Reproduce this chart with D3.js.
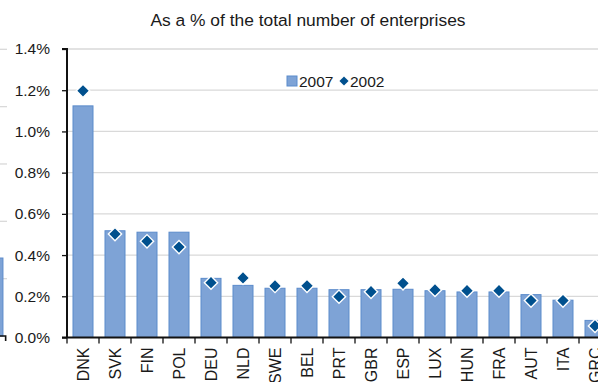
<!DOCTYPE html>
<html>
<head>
<meta charset="utf-8">
<script src="https://cdn.jsdelivr.net/npm/d3@7"></script>
<style>
  body { margin: 0; background: #fff; }
  svg { display: block; font-family: "Liberation Sans", Arial, sans-serif; }
</style>
</head>
<body>
<div id="chart"></div>
<script>
// values
const countries = ["DNK", "SVK", "FIN", "POL", "DEU", "NLD", "SWE", "BEL", "PRT", "GBR", "ESP", "LUX", "HUN", "FRA", "AUT", "ITA", "GRC"];
const values2007 = [1.124, 0.518, 0.511, 0.511, 0.287, 0.253, 0.239, 0.239, 0.232, 0.232, 0.234, 0.227, 0.221, 0.221, 0.208, 0.181, 0.083];
const values2002 = [1.197, 0.502, 0.467, 0.439, 0.266, 0.289, 0.250, 0.251, 0.198, 0.222, 0.263, 0.231, 0.227, 0.227, 0.179, 0.179, 0.056];
const yTicks = [0, 0.2, 0.4, 0.6, 0.8, 1.0, 1.2, 1.4];
const seriesNames = ["2007", "2002"];

// neighbouring panel, only its right edge shows
const prevTicks = [1, 2, 3, 4, 5];
const prevValues = [1.36];

const width = 598, height = 382;
const barFill = "#7EA3D6", barStroke = "#5B8BCB", dotFill = "#00508E";
const gridColor = "#d9d9d9";

const svg = d3.select("#chart").append("svg")
    .attr("width", width)
    .attr("height", height);

const plotLeft = 67, plotTop = 49, plotBottom = 337.5;
const step = 32;
const plotRight = plotLeft + step * countries.length;

const x = d3.scaleBand()
    .domain(countries)
    .range([plotLeft, plotRight])
    .paddingInner(0.375)
    .paddingOuter(0.1875);

const y = d3.scaleLinear()
    .domain([0, 1.4])
    .range([plotBottom, plotTop]);

// subtitle
svg.append("text")
    .attr("x", 308)
    .attr("y", 26)
    .attr("text-anchor", "middle")
    .style("font-size", "17.4px")
    .attr("fill", "#1a1a1a")
    .text("As a % of the total number of enterprises");

// the panel on the left, cropped
const prevY = d3.scaleLinear().domain([0, 5]).range([336, 49.3]);
const prevX = d3.scaleLinear().domain([0, 1]).range([-20, 7]);
svg.append("g").selectAll("line")
    .data(prevTicks)
    .enter().append("line")
    .attr("x1", prevX(0)).attr("x2", prevX(1))
    .attr("y1", d => prevY(d)).attr("y2", d => prevY(d))
    .attr("stroke", gridColor).attr("stroke-width", 1.3);
svg.append("g").selectAll("rect")
    .data(prevValues)
    .enter().append("rect")
    .attr("x", prevX(0))
    .attr("width", prevX(0.85) - prevX(0))
    .attr("y", d => prevY(d))
    .attr("height", d => prevY(0) - prevY(d))
    .attr("fill", barFill).attr("stroke", barStroke);
svg.append("path")
    .attr("d", "M" + prevX(0) + "," + prevY(0) + "H" + prevX(0.95) + "V" + (prevY(0) + 5))
    .attr("fill", "none").attr("stroke", "#111").attr("stroke-width", 1.6);

// gridlines
svg.append("g").selectAll("line")
    .data(yTicks.slice(1))
    .enter().append("line")
    .attr("x1", plotLeft).attr("x2", plotRight)
    .attr("y1", d => y(d)).attr("y2", d => y(d))
    .attr("stroke", gridColor)
    .attr("stroke-width", 1.3);

// bars 2007
svg.append("g").selectAll("rect")
    .data(countries)
    .enter().append("rect")
    .attr("x", d => x(d))
    .attr("width", x.bandwidth())
    .attr("y", (d, i) => y(values2007[i]))
    .attr("height", (d, i) => y(0) - y(values2007[i]))
    .attr("fill", barFill)
    .attr("stroke", barStroke)
    .attr("stroke-width", 1);

// diamonds 2002
const diamond = d3.symbol().type(d3.symbolSquare).size(88);
svg.append("g").selectAll("path")
    .data(countries)
    .enter().append("path")
    .attr("d", diamond)
    .attr("transform", (d, i) => "translate(" + (x(d) + x.bandwidth() / 2) + "," + y(values2002[i]) + ") rotate(45)")
    .attr("fill", dotFill)
    .attr("stroke", "#fff")
    .attr("stroke-width", 1.4);

// y axis
const yAxis = svg.append("g")
    .attr("transform", "translate(" + plotLeft + ",0)")
    .call(d3.axisLeft(y).tickValues(yTicks).tickSize(5).tickPadding(12)
        .tickFormat(d => d.toFixed(1) + "%"));
yAxis.select(".domain").attr("stroke", "#111").attr("stroke-width", 2).attr("d", "M-5," + plotTop + "H0V" + plotBottom);
yAxis.selectAll(".tick line").attr("stroke", "#111").attr("stroke-width", 1.3);
yAxis.selectAll("text").style("font-size", "15.5px").attr("fill", "#1a1a1a");

// x axis with ticks between categories
const xg = svg.append("g");
xg.append("line")
    .attr("x1", plotLeft - 5).attr("x2", plotRight)
    .attr("y1", plotBottom).attr("y2", plotBottom)
    .attr("stroke", "#111").attr("stroke-width", 2);
xg.selectAll("line.sep")
    .data(countries)
    .enter().append("line")
    .attr("class", "sep")
    .attr("x1", d => x(d) - x.step() * x.paddingOuter())
    .attr("x2", d => x(d) - x.step() * x.paddingOuter())
    .attr("y1", plotBottom).attr("y2", plotBottom + 6)
    .attr("stroke", "#111").attr("stroke-width", 1.3);
xg.selectAll("text")
    .data(countries)
    .enter().append("text")
    .attr("transform", d => "translate(" + (x(d) + x.bandwidth() / 2 + 5.5) + "," + (plotBottom + 10) + ") rotate(-90)")
    .attr("text-anchor", "end")
    .style("font-size", "16px")
    .attr("fill", "#1a1a1a")
    .text(d => d);

// legend
const legend = svg.append("g").attr("transform", "translate(287,81)");
legend.append("rect")
    .attr("x", 0).attr("y", -5).attr("width", 10).attr("height", 10)
    .attr("fill", barFill).attr("stroke", barStroke);
legend.append("text")
    .attr("x", 12).attr("y", 5.5)
    .style("font-size", "15.5px").attr("fill", "#1a1a1a")
    .text(seriesNames[0]);
legend.append("path")
    .attr("d", d3.symbol().type(d3.symbolSquare).size(42))
    .attr("transform", "translate(57,0) rotate(45)")
    .attr("fill", dotFill);
legend.append("text")
    .attr("x", 63).attr("y", 5.5)
    .style("font-size", "15.5px").attr("fill", "#1a1a1a")
    .text(seriesNames[1]);
</script>
</body>
</html>
